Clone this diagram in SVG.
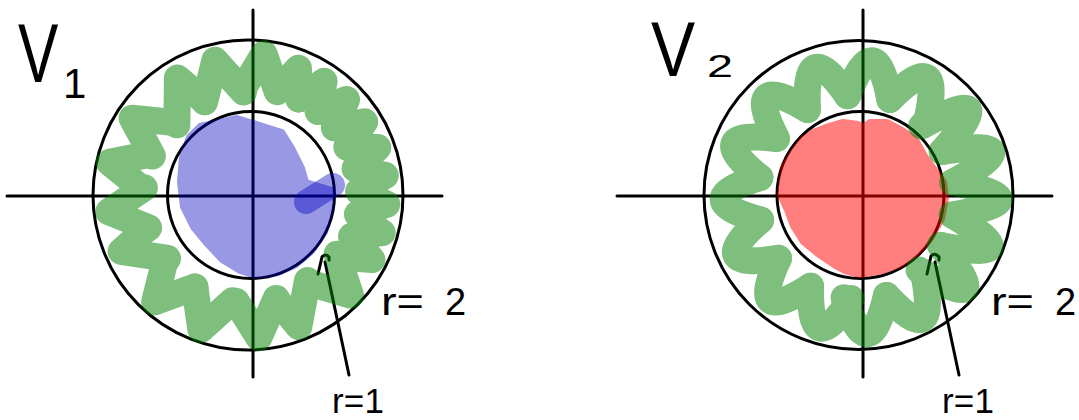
<svg xmlns="http://www.w3.org/2000/svg" width="1079" height="420" viewBox="0 0 1079 420">
<style>
.ln{fill:none;stroke:#000;stroke-width:3;stroke-linecap:round;stroke-linejoin:round}
.gr{fill:none;stroke:#008000;stroke-width:27;stroke-linecap:round;stroke-linejoin:round}
.blue{fill:#0000c0;stroke:#0000c0;stroke-width:6;stroke-linejoin:round;opacity:0.4}
.red{fill:#ff0000;stroke:#ff0000;stroke-width:6;stroke-linejoin:round;opacity:0.5}
.lbl{font-family:"Liberation Sans",Arial,sans-serif;fill:#000}
</style>
<defs>
<path id="tvA" class="gr" d="M105,0 L138.4,26.9 L97.4,39.4"/>
<path id="tvB" class="gr" d="M109,0 L142.2,22.5 L103.7,33.7"/>
<path id="tvC" class="gr" d="M102,0 L134.8,33.6 L99.7,36.3"/>
<path id="ts" class="gr" d="M110,0 L137.2,14.4 L107.6,22.9"/>
<path id="thA" class="gr" d="M102,0 Q170.1,36.2 93.2,41.5"/>
<path id="thB" class="gr" d="M94,0 Q183.1,32.3 88.3,32.2"/>
</defs>
<rect width="1079" height="420" fill="#fff"/>

<g id="v1">
  <g id="v1-lines">
    <line class="ln" x1="253" y1="10" x2="253" y2="377"/>
    <line class="ln" x1="7" y1="196" x2="442" y2="196"/>
    <circle class="ln" cx="248" cy="195" r="155"/>
    <circle class="ln" cx="251" cy="195" r="83.5"/>
    <path class="ln" d="M349,375 L325,262"/>
    <path class="ln" d="M318,274 L322,257 Q325,253 329,257 L329,260"/>
  </g>
  <g id="v1-blue">
    <polygon class="blue" points="200,126 237,118 263,126 282,132 292,148 302,168 306,182 332,190 331,210 325,232 312,251 296,265 278,273 256,276 240,271 222,260 207,244 193,227 183,207 180,182 182,157 189,137"/>
    <line x1="306" y1="202" x2="333" y2="185" stroke="#0000c0" stroke-width="24" stroke-linecap="round" opacity="0.4"/>
  </g>
  <g id="v1-green" opacity="0.5">
    <use href="#tvA" transform="translate(249,197) rotate(99)"/>
    <use href="#tvA" transform="translate(249,197) rotate(121)"/>
    <use href="#tvC" transform="translate(249,197) rotate(143)"/>
    <use href="#tvA" transform="translate(249,197) rotate(163)"/>
    <use href="#tvB" transform="translate(249,197) rotate(185)"/>
    <use href="#tvA" transform="translate(249,197) rotate(203)"/>
    <use href="#tvC" transform="translate(249,197) rotate(225)"/>
    <use href="#tvA" transform="translate(249,197) rotate(245)"/>
    <use href="#tvB" transform="translate(249,197) rotate(267)"/>
    <use href="#ts" transform="translate(249,197) rotate(285)"/>
    <use href="#ts" transform="translate(249,197) rotate(297)"/>
    <use href="#ts" transform="translate(249,197) rotate(309)"/>
    <use href="#ts" transform="translate(249,197) rotate(321)"/>
    <use href="#ts" transform="translate(249,197) rotate(333)"/>
    <use href="#ts" transform="translate(249,197) rotate(345)"/>
    <use href="#ts" transform="translate(249,197) rotate(357)"/>
    <use href="#ts" transform="translate(249,197) rotate(369)"/>
    <use href="#ts" transform="translate(249,197) rotate(381)"/>
    <use href="#tvA" transform="translate(249,197) rotate(393)"/>
    <use href="#tvC" transform="translate(249,197) rotate(415)"/>
    <use href="#tvA" transform="translate(249,197) rotate(435)"/>
  </g>
  <g id="v1-labels">
    <text class="lbl" x="0" y="0" font-size="84" transform="translate(18,82) scale(0.72,1)">V</text>
    <text class="lbl" x="63" y="98" font-size="42">1</text>
    <text class="lbl" x="381" y="315" font-size="38" textLength="43" lengthAdjust="spacingAndGlyphs">r=</text>
    <text class="lbl" x="445" y="315" font-size="38">2</text>
    <text class="lbl" x="332" y="413" font-size="35" textLength="52">r=1</text>
  </g>
</g>

<g id="v2">
  <g id="v2-lines">
    <line class="ln" x1="863" y1="10" x2="863" y2="377"/>
    <line class="ln" x1="617" y1="196" x2="1052" y2="196"/>
    <circle class="ln" cx="858.5" cy="195" r="154.5"/>
    <circle class="ln" cx="860.5" cy="195" r="83.5"/>
    <path class="ln" d="M959,375 L935,262"/>
    <path class="ln" d="M927,274 L931,256 Q935,252 939,257 L939,260"/>
  </g>
  <g id="v2-red">
    <polygon class="red" points="780,195 784,166 794,151 802,140 813,132 826,127 843,122 858,124 863,127 870,122 887,122 902,130 915,138 925,156 935,170 944,182 946,198 942,219 931,238 916,254 900,265 883,271 860,275 845,271 834,265 819,255 803,242 793,226 787,210"/>
  </g>
  <g id="v2-green" opacity="0.5">
    <use href="#thA" transform="translate(860,197) rotate(95)"/>
    <use href="#thA" transform="translate(860,197) rotate(119)"/>
    <use href="#thA" transform="translate(860,197) rotate(143)"/>
    <use href="#thA" transform="translate(860,197) rotate(167)"/>
    <use href="#thA" transform="translate(860,197) rotate(191)"/>
    <use href="#thA" transform="translate(860,197) rotate(215)"/>
    <use href="#thA" transform="translate(860,197) rotate(239)"/>
    <use href="#thA" transform="translate(860,197) rotate(263)"/>
    <use href="#thA" transform="translate(860,197) rotate(287)"/>
    <use href="#thB" transform="translate(860,197) rotate(311)"/>
    <use href="#thB" transform="translate(860,197) rotate(331)"/>
    <use href="#thB" transform="translate(860,197) rotate(351)"/>
    <use href="#thB" transform="translate(860,197) rotate(371)"/>
    <use href="#thB" transform="translate(860,197) rotate(391)"/>
    <use href="#thA" transform="translate(860,197) rotate(411)"/>
    <use href="#thA" transform="translate(860,197) rotate(435)"/>
  </g>
  <g id="v2-labels">
    <text class="lbl" x="0" y="0" font-size="77" transform="translate(651,76) scale(0.86,1)">V</text>
    <text class="lbl" x="707" y="77" font-size="32" textLength="26" lengthAdjust="spacingAndGlyphs">2</text>
    <text class="lbl" x="991" y="315" font-size="38" textLength="43" lengthAdjust="spacingAndGlyphs">r=</text>
    <text class="lbl" x="1055" y="315" font-size="38">2</text>
    <text class="lbl" x="942" y="413" font-size="35" textLength="52">r=1</text>
  </g>
</g>
</svg>
